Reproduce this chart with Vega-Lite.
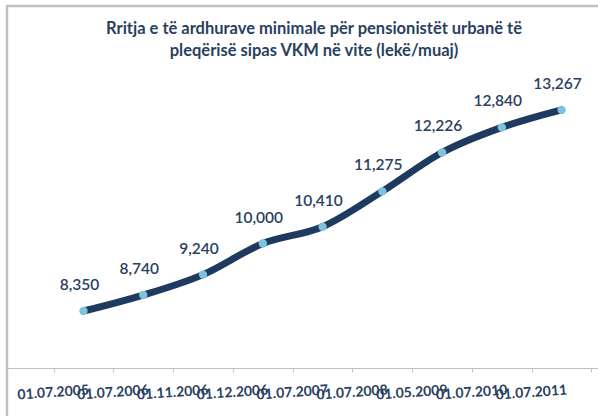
{
  "$schema": "https://vega.github.io/schema/vega-lite/v6.json",
  "width": 600,
  "height": 414,
  "padding": {"left": 6, "top": 6, "right": 0, "bottom": 0},
  "background": "white",
  "config": {
    "view": {"stroke": "#c0c0c0", "strokeWidth": 2.5},
    "font": "Lato"
  },
  "title": {
    "text": ["Rritja e të ardhurave minimale për pensionistët urbanë të", "pleqërisë sipas VKM në vite (lekë/muaj)"],
    "font": "Lato",
    "fontSize": 16.5,
    "fontWeight": "bold",
    "color": "#2a3f5f",
    "anchor": "middle",
    "offset": -53,
    "dx": 7,
    "lineHeight": 22
  },
  "data": {
    "values": [
      {"date": "01.07.2005", "value": 8350},
      {"date": "01.07.2006", "value": 8740},
      {"date": "01.11.2006", "value": 9240},
      {"date": "01.12.2006", "value": 10000},
      {"date": "01.07.2007", "value": 10410},
      {"date": "01.07.2008", "value": 11275},
      {"date": "01.05.2009", "value": 12226},
      {"date": "01.07.2010", "value": 12840},
      {"date": "01.07.2011", "value": 13267}
    ]
  },
  "encoding": {
    "x": {
      "field": "date",
      "type": "ordinal",
      "sort": null,
      "scale": {"paddingInner": 0, "paddingOuter": 0.52, "align": 0.75},
      "axis": {
        "title": null,
        "offset": -52,
        "domainColor": "#c0c0c0",
        "tickColor": "#c0c0c0",
        "tickBand": "extent",
        "tickSize": 4,
        "labelAngle": -4,
        "labelAlign": "right",
        "labelBaseline": "middle",
        "labelOffset": 5,
        "labelPadding": 18,
        "labelFont": "Lato",
        "labelFontSize": 14,
        "labelFontWeight": "bold",
        "labelColor": "#2a3f5f"
      }
    },
    "y": {
      "field": "value",
      "type": "quantitative",
      "scale": {"domain": [5685, 15807], "zero": false, "nice": false},
      "axis": null
    }
  },
  "layer": [
    {
      "mark": {"type": "line", "color": "#1f3a5f", "strokeWidth": 7, "interpolate": "monotone", "strokeCap": "round"}
    },
    {
      "mark": {"type": "point", "filled": true, "color": "#7dc3dc", "size": 70, "opacity": 1}
    },
    {
      "mark": {"type": "text", "dy": -26, "dx": -4, "font": "Lato", "fontSize": 15.5, "fontWeight": 600, "color": "#2a3f5f"},
      "encoding": {"text": {"field": "value", "type": "quantitative", "format": ",.0f"}}
    }
  ]
}
